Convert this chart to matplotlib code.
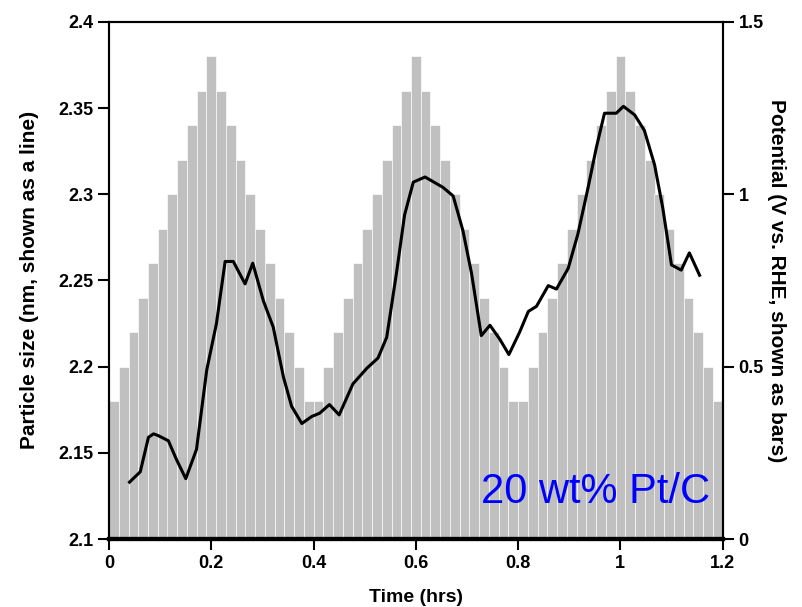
import numpy as np
import matplotlib
matplotlib.use("Agg")
import matplotlib.pyplot as plt
from matplotlib.ticker import FuncFormatter

# potential steps (bars, right axis)
bar_time = [0.0095, 0.0286, 0.0476, 0.0667, 0.0857, 0.1048, 0.1238, 0.1429,
            0.1619, 0.1810, 0.2000, 0.2191, 0.2381, 0.2572, 0.2762, 0.2953,
            0.3143, 0.3334, 0.3524, 0.3715, 0.3905, 0.4096, 0.4286, 0.4477,
            0.4667, 0.4858, 0.5048, 0.5239, 0.5429, 0.5620, 0.5810, 0.6001,
            0.6191, 0.6382, 0.6572, 0.6763, 0.6953, 0.7144, 0.7334, 0.7525,
            0.7715, 0.7906, 0.8096, 0.8287, 0.8477, 0.8668, 0.8858, 0.9049,
            0.9239, 0.9430, 0.9620, 0.9811, 1.0001, 1.0192, 1.0382, 1.0573,
            1.0763, 1.0954, 1.1144, 1.1335, 1.1525, 1.1716, 1.1906]
potential = [0.4, 0.5, 0.6, 0.7, 0.8, 0.9, 1.0, 1.1, 1.2, 1.3, 1.4,
             1.3, 1.2, 1.1, 1.0, 0.9, 0.8, 0.7, 0.6, 0.5, 0.4,
             0.4, 0.5, 0.6, 0.7, 0.8, 0.9, 1.0, 1.1, 1.2, 1.3, 1.4,
             1.3, 1.2, 1.1, 1.0, 0.9, 0.8, 0.7, 0.6, 0.5, 0.4,
             0.4, 0.5, 0.6, 0.7, 0.8, 0.9, 1.0, 1.1, 1.2, 1.3, 1.4,
             1.3, 1.2, 1.1, 1.0, 0.9, 0.8, 0.7, 0.6, 0.5, 0.4]
bar_width = 0.01905

# particle size (line, left axis)
size_time = [0.040, 0.061, 0.077, 0.087, 0.096, 0.116, 0.132, 0.150, 0.171,
             0.191, 0.210, 0.227, 0.243, 0.266, 0.281, 0.302, 0.321, 0.341,
             0.357, 0.377, 0.396, 0.412, 0.431, 0.450, 0.477, 0.504, 0.526,
             0.543, 0.562, 0.578, 0.595, 0.618, 0.653, 0.673, 0.692, 0.709,
             0.728, 0.745, 0.764, 0.782, 0.803, 0.820, 0.836, 0.859, 0.875,
             0.898, 0.917, 0.937, 0.953, 0.969, 0.992, 1.006, 1.028, 1.047,
             1.067, 1.083, 1.100, 1.119, 1.135, 1.155]
particle_size = [2.133, 2.139, 2.159, 2.161, 2.160, 2.157, 2.146, 2.135, 2.152,
                 2.198, 2.225, 2.261, 2.261, 2.248, 2.260, 2.238, 2.223, 2.194,
                 2.177, 2.167, 2.171, 2.173, 2.178, 2.172, 2.190, 2.199, 2.205,
                 2.217, 2.254, 2.288, 2.307, 2.310, 2.304, 2.299, 2.279, 2.254,
                 2.218, 2.224, 2.216, 2.207, 2.220, 2.232, 2.235, 2.247, 2.245,
                 2.257, 2.277, 2.304, 2.327, 2.347, 2.347, 2.351, 2.346, 2.337,
                 2.317, 2.292, 2.259, 2.256, 2.266, 2.253]

x_ticks = [0, 0.2, 0.4, 0.6, 0.8, 1.0, 1.2]
size_ticks = [2.1, 2.15, 2.2, 2.25, 2.3, 2.35, 2.4]
pot_ticks = [0, 0.5, 1.0, 1.5]

plt.rcParams['font.family'] = ['Liberation Sans', 'DejaVu Sans']
plt.rcParams['font.weight'] = 'bold'

fig = plt.figure(figsize=(8.02, 6.07), dpi=100)
ax_v = fig.add_axes([0.136, 0.112, 0.765, 0.852])
ax_s = ax_v.twinx()

# bars: potential, right axis
ax_v.bar(bar_time, potential, width=bar_width, color='#c0c0c0',
         edgecolor='white', linewidth=0.45, zorder=1)
ax_v.set_ylim(0, 1.5)
ax_v.set_xlim(0, 1.2)
ax_v.set_yticks(pot_ticks)
ax_v.yaxis.set_major_formatter(FuncFormatter(lambda v, p: '%g' % v))
ax_v.yaxis.tick_right()
ax_v.yaxis.set_label_position('right')
ax_v.set_ylabel('Potential (V vs. RHE, shown as bars)', rotation=270,
                labelpad=16, fontsize=15, fontweight='bold')

# line: particle size, left axis
ax_s.plot(size_time, particle_size, color='black', linewidth=2.2)
ax_s.set_ylim(2.1, 2.4)
ax_s.set_yticks(size_ticks)
ax_s.yaxis.set_major_formatter(FuncFormatter(lambda v, p: '%g' % round(v, 2)))
ax_s.yaxis.tick_left()
ax_s.yaxis.set_label_position('left')
ax_s.set_ylabel('Particle size (nm, shown as a line)', labelpad=14,
                fontsize=15, fontweight='bold')

ax_v.set_xticks(x_ticks)
ax_v.xaxis.set_major_formatter(FuncFormatter(lambda v, p: '%g' % round(v, 1)))
ax_v.set_xlabel('Time (hrs)', fontsize=14, fontweight='bold', labelpad=12)

for a in (ax_v, ax_s):
    a.tick_params(direction='out', length=8, width=1.5, labelsize=13)
    for sp in a.spines.values():
        sp.set_linewidth(1.5)
    a.spines['bottom'].set_linewidth(3)

ax_s.text(0.728, 2.121, '20 wt% Pt/C', color='#0000ff', fontsize=30,
          fontweight='normal', ha='left', va='baseline')

fig.savefig('out.png', dpi=100)
